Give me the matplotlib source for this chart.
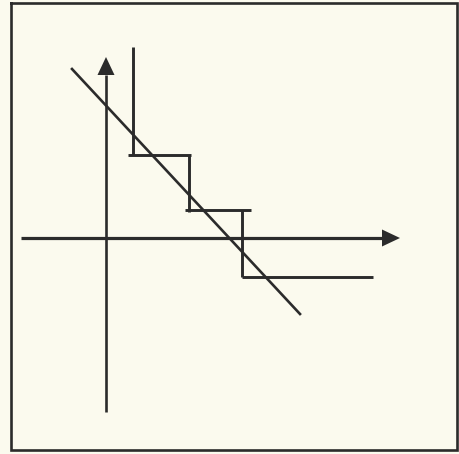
import matplotlib
matplotlib.use('Agg')
import matplotlib.pyplot as plt
from matplotlib.patches import Polygon

# Diagram data, origin at the crossing of the two axes (units ~ pixels, y up)
x_axis = [-85, 276]
y_axis = [-174, 163]
arrow_len, arrow_half = 18, 8.5

# staircase (quantised response): vertical and horizontal pieces
step_segments = [
    ([27, 27], [191, 83]),
    ([22, 85], [83, 83]),
    ([83, 83], [83, 26]),
    ([79, 145], [28, 28]),
    ([136, 136], [28, -39]),
    ([136, 267], [-39, -39]),
]

# straight line that the staircase approximates
line_x = [-34, 194]
line_y = [169, -76]

# frame around the figure
frame_x = [-95, 351, 351, -95, -95]
frame_y = [235, 235, -212, -212, 235]

ink = '#2b2b2b'
paper = '#fbfaee'

fig = plt.figure(figsize=(4.6, 4.54), dpi=100)
fig.patch.set_facecolor(paper)
ax = fig.add_axes([0, 0, 1, 1])
ax.set_facecolor(paper)
ax.set_xlim(-106, 354)
ax.set_ylim(-216, 238)
ax.axis('off')

ax.plot(frame_x, frame_y, color=ink, lw=1.9, solid_joinstyle='miter')

# axes with filled arrow heads
ax.plot(x_axis, [0, 0], color=ink, lw=2.3, solid_capstyle='butt')
ax.plot([0, 0], y_axis, color=ink, lw=1.9, solid_capstyle='butt')
ax.add_patch(Polygon([[x_axis[1], -arrow_half], [x_axis[1] + arrow_len, 0],
                      [x_axis[1], arrow_half]], closed=True, color=ink, lw=0))
ax.add_patch(Polygon([[-arrow_half, y_axis[1]], [0, y_axis[1] + arrow_len],
                      [arrow_half, y_axis[1]]], closed=True, color=ink, lw=0))

for sx, sy in step_segments:
    ax.plot(sx, sy, color=ink, lw=2.1, solid_capstyle='butt')

ax.plot(line_x, line_y, color=ink, lw=1.9)

fig.savefig('out.png', dpi=100, facecolor=paper)
